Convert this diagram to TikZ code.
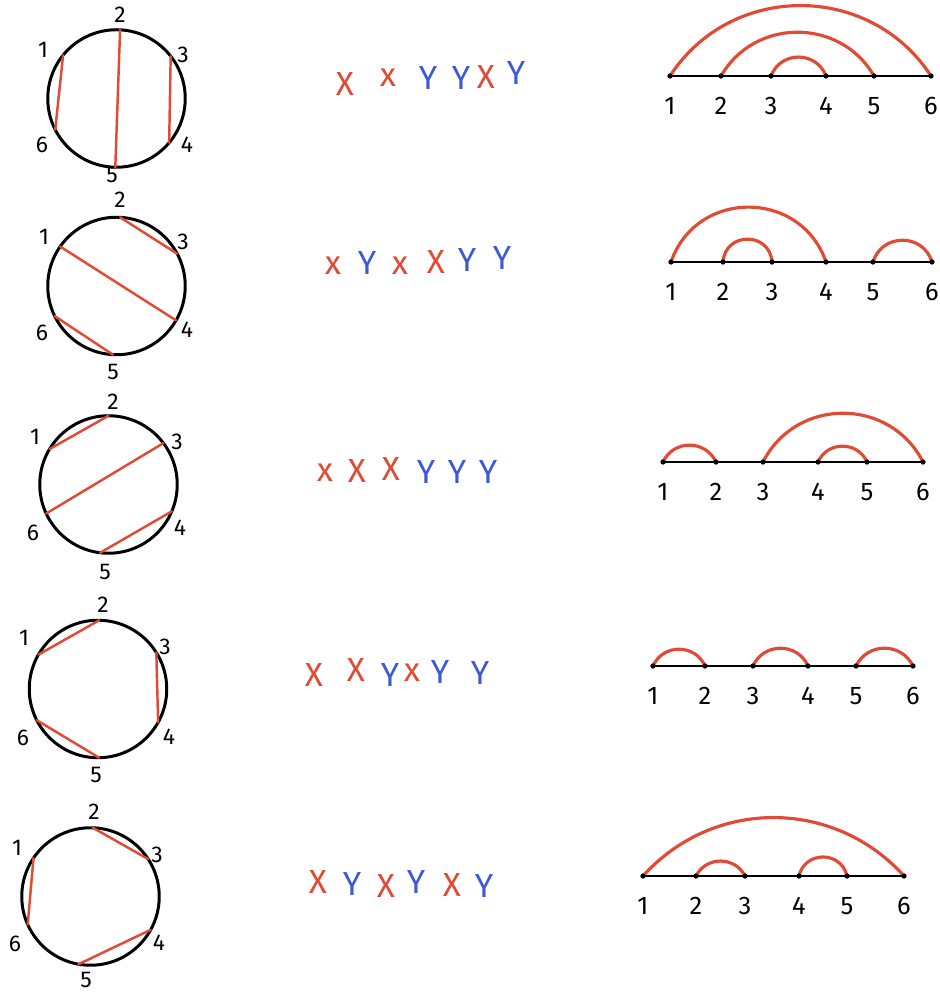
\documentclass[tikz,border=0pt]{standalone}
\usepackage{fontspec}
\setmainfont{Fira Sans}
\usepackage{xcolor}
\usetikzlibrary{positioning}
\definecolor{chordred}{HTML}{E14B35}
\definecolor{yblue}{HTML}{3D5AD6}
\tikzset{
  ring/.style={circle, draw=black, line width=1.7pt, minimum size=2.75cm, inner sep=0pt, outer sep=0pt},
  chord/.style={draw=chordred, line width=1.4pt, line cap=round},
  hop/.style={draw=chordred, line width=1.8pt, line cap=round},
  spine/.style={draw=black, line width=1.4pt},
  num/.style={font=\fontsize{13}{13}\selectfont, inner sep=0pt},
  tick/.style={font=\fontsize{14.5}{14.5}\selectfont, inner sep=0pt},
  xletter/.style={text=chordred, font=\fontsize{19}{19}\selectfont, inner sep=0pt},
  yletter/.style={xletter, text=yblue}
}
% points of an arc line
\newcommand{\arcpoints}[3]{%
  \foreach \x [count=\i] in {#3}
    \coordinate (#1-\i) at (\x,#2);
}
% line, dots and numbers, drawn over the arcs
\newcommand{\arcspine}[1]{%
  \draw[spine] (#1-1) -- (#1-6);
  \foreach \i in {1,...,6} {
    \fill (#1-\i) circle[radius=1.5pt];
    \node[tick, below=4.2mm of #1-\i] (#1-n\i) {\i};
  }
}

\begin{document}
\begin{tikzpicture}[x=1cm,y=1cm]
\useasboundingbox (0,0) rectangle (18.8,19.86);
\fill[white] (0,0) rectangle (18.8,19.86);

% row 1
\node[ring] (c1) at (2.33,17.89) {};
\foreach \i/\x/\y in {1/0.86/18.86, 2/2.40/19.56, 3/3.66/18.76, 4/3.74/16.96, 5/2.24/16.36, 6/0.84/16.96}
  \node[num] (c1-\i) at (\x,\y) {\i};
\draw[chord] (c1.141.5) -- (c1.207) (c1.87) -- (c1.269) (c1.38) -- (c1.320);

\node[xletter] (w1-1) at (6.90,18.18) {X};
\node[xletter] (w1-2) at (7.76,18.30) {x};
\node[yletter] (w1-3) at (8.56,18.30) {Y};
\node[yletter] (w1-4) at (9.22,18.30) {Y};
\node[xletter] (w1-5) at (9.72,18.32) {X};
\node[yletter] (w1-6) at (10.32,18.40) {Y};

\arcpoints{t1}{18.34}{13.40,14.42,15.42,16.52,17.48,18.62}
\draw[hop] (t1-1) to[out=57,in=123,looseness=1.10] (t1-6);
\draw[hop] (t1-2) to[out=60,in=120,looseness=1.13] (t1-5);
\draw[hop] (t1-3) to[out=69,in=111,looseness=1.26] (t1-4);
\arcspine{t1}

% row 2
\node[ring] (c2) at (2.33,14.14) {};
\foreach \i/\x/\y in {1/0.88/15.12, 2/2.40/15.86, 3/3.66/15.02, 4/3.74/13.26, 5/2.26/12.42, 6/0.84/13.20}
  \node[num] (c2-\i) at (\x,\y) {\i};
\draw[chord] (c2.87) -- (c2.28) (c2.145) -- (c2.330) (c2.206) -- (c2.267);

\node[xletter] (w2-1) at (6.66,14.54) {x};
\node[yletter] (w2-2) at (7.34,14.60) {Y};
\node[xletter] (w2-3) at (8.00,14.54) {x};
\node[xletter] (w2-4) at (8.72,14.62) {X};
\node[yletter] (w2-5) at (9.34,14.66) {Y};
\node[yletter] (w2-6) at (10.04,14.70) {Y};

\arcpoints{t2}{14.62}{13.42,14.46,15.44,16.52,17.46,18.64}
\draw[hop] (t2-1) to[out=71,in=109,looseness=1.28] (t2-4);
\draw[hop] (t2-2) to[out=86,in=94,looseness=1.60] (t2-3);
\draw[hop] (t2-5) to[out=73,in=107,looseness=1.32] (t2-6);
\arcspine{t2}

% row 3
\node[ring] (c3) at (2.17,10.17) {};
\foreach \i/\x/\y in {1/0.70/11.12, 2/2.26/11.82, 3/3.54/11.02, 4/3.60/9.30, 5/2.10/8.42, 6/0.66/9.20}
  \node[num] (c3-\i) at (\x,\y) {\i};
\draw[chord] (c3.149) -- (c3.90) (c3.205) -- (c3.37) (c3.263) -- (c3.337);

\node[xletter] (w3-1) at (6.50,10.40) {x};
\node[xletter] (w3-2) at (7.14,10.44) {X};
\node[xletter] (w3-3) at (7.82,10.48) {X};
\node[yletter] (w3-4) at (8.52,10.42) {Y};
\node[yletter] (w3-5) at (9.14,10.42) {Y};
\node[yletter] (w3-6) at (9.76,10.42) {Y};

\arcpoints{t3}{10.62}{13.26,14.32,15.26,16.36,17.34,18.46}
\draw[hop] (t3-1) to[out=65,in=115,looseness=1.20] (t3-2);
\draw[hop] (t3-3) to[out=63,in=117,looseness=1.17] (t3-6);
\draw[hop] (t3-4) to[out=66,in=114,looseness=1.21] (t3-5);
\arcspine{t3}

% row 4
\node[ring] (c4) at (1.96,6.08) {};
\foreach \i/\x/\y in {1/0.48/7.10, 2/2.06/7.76, 3/3.30/6.92, 4/3.38/5.12, 5/1.92/4.36, 6/0.46/5.10}
  \node[num] (c4-\i) at (\x,\y) {\i};
\draw[chord] (c4.150) -- (c4.89) (c4.32) -- (c4.331) (c4.207) -- (c4.271);

\node[xletter] (w4-1) at (6.28,6.36) {X};
\node[xletter] (w4-2) at (7.12,6.46) {X};
\node[yletter] (w4-3) at (7.80,6.36) {Y};
\node[xletter] (w4-4) at (8.24,6.40) {x};
\node[yletter] (w4-5) at (8.80,6.42) {Y};
\node[yletter] (w4-6) at (9.60,6.40) {Y};

\arcpoints{t4}{6.54}{13.06,14.10,15.06,16.16,17.12,18.26}
\draw[hop] (t4-1) to[out=66,in=114,looseness=1.21] (t4-2);
\draw[hop] (t4-3) to[out=66,in=114,looseness=1.21] (t4-4);
\draw[hop] (t4-5) to[out=64,in=116,looseness=1.19] (t4-6);
\arcspine{t4}

% row 5
\node[ring] (c5) at (1.81,1.93) {};
\foreach \i/\x/\y in {1/0.34/2.90, 2/1.88/3.62, 3/3.14/2.76, 4/3.18/1.00, 5/1.72/0.26, 6/0.30/0.98}
  \node[num] (c5-\i) at (\x,\y) {\i};
\draw[chord] (c5.88) -- (c5.33) (c5.146) -- (c5.204) (c5.260) -- (c5.331);

\node[xletter] (w5-1) at (6.36,2.22) {X};
\node[yletter] (w5-2) at (7.04,2.18) {Y};
\node[xletter] (w5-3) at (7.72,2.14) {X};
\node[yletter] (w5-4) at (8.32,2.22) {Y};
\node[xletter] (w5-5) at (9.04,2.16) {X};
\node[yletter] (w5-6) at (9.68,2.14) {Y};

\arcpoints{t5}{2.34}{12.86,13.92,14.90,15.98,16.94,18.08}
\draw[hop] (t5-1) to[out=48,in=132,looseness=1.03] (t5-6);
\draw[hop] (t5-2) to[out=63,in=117,looseness=1.17] (t5-3);
\draw[hop] (t5-4) to[out=77,in=103,looseness=1.39] (t5-5);
\arcspine{t5}
\end{tikzpicture}
\end{document}
